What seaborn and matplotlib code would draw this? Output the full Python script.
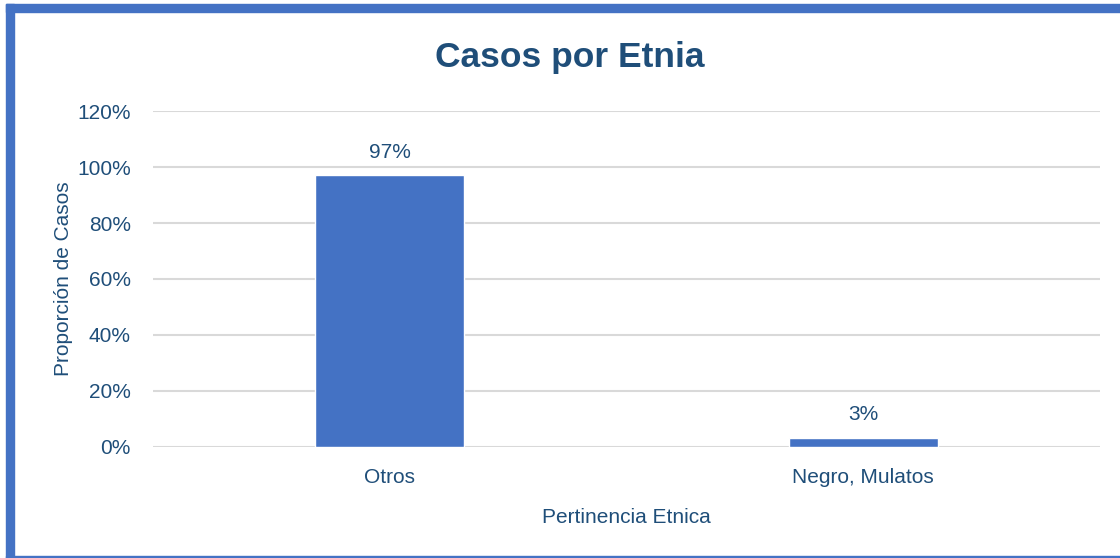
import matplotlib
matplotlib.use("Agg")
import matplotlib.pyplot as plt
import seaborn as sns
import pandas as pd
from matplotlib.patches import Rectangle
from matplotlib import font_manager

categories = ["Otros", "Negro, Mulatos"]
values = [0.97, 0.033]
labels = ["97%", "3%"]
yticks = [0, 0.2, 0.4, 0.6, 0.8, 1.0, 1.2]
ytick_labels = ["0%", "20%", "40%", "60%", "80%", "100%", "120%"]

sns.set_theme(style="white")
names = {f.name for f in font_manager.fontManager.ttflist}
fam = "Liberation Sans Narrow" if "Liberation Sans Narrow" in names else "Liberation Sans"
plt.rcParams["font.family"] = [fam, "DejaVu Sans"]

TXT = "#1F4E79"
BAR = "#4472C4"
FS = 15

fig = plt.figure(figsize=(11.2, 5.58), dpi=100)
ax = fig.add_axes([0.1366, 0.199, 0.982 - 0.1366, 0.602])

df = pd.DataFrame({"cat": categories, "val": values})
sns.barplot(data=df, x="cat", y="val", color=BAR, width=0.315, ax=ax, saturation=1, zorder=3)

ax.set_ylim(0, 1.2)
ax.set_yticks(yticks)
ax.set_yticklabels(ytick_labels)
ax.yaxis.grid(True, color="#D9D9D9", linewidth=1.5, zorder=0)
ax.set_axisbelow(True)
for s in ax.spines.values():
    s.set_visible(False)
ax.tick_params(axis="y", length=0, labelsize=FS, labelcolor=TXT, pad=16)
ax.tick_params(axis="x", length=0, labelsize=FS, labelcolor=TXT, pad=15.5)

for p, lab in zip(ax.patches, labels):
    ax.annotate(lab, (p.get_x() + p.get_width() / 2, p.get_height()),
                xytext=(0, 10), textcoords="offset points", ha="center", va="bottom",
                fontsize=FS, color=TXT)

ax.set_xlabel("Pertinencia Etnica", fontsize=FS, color=TXT, labelpad=15)
ax.set_ylabel("Proporción de Casos", fontsize=FS, color=TXT, labelpad=3)
fig.text(0.5085, 0.897, "Casos por Etnia", ha="center", va="center",
         fontsize=25.5, fontweight="bold", color=TXT)

# frame
fig.patches.append(Rectangle((6/1120, 1 - 12/558), 1 - 6/1120, 8/558,
                             transform=fig.transFigure, color=BAR, zorder=10))
fig.patches.append(Rectangle((6/1120, 0), 8/1120, 1 - 4/558,
                             transform=fig.transFigure, color=BAR, zorder=10))
fig.patches.append(Rectangle((6/1120, 0), 1 - 6/1120, 2/558,
                             transform=fig.transFigure, color=BAR, zorder=10))

fig.savefig("out.png", dpi=100)
